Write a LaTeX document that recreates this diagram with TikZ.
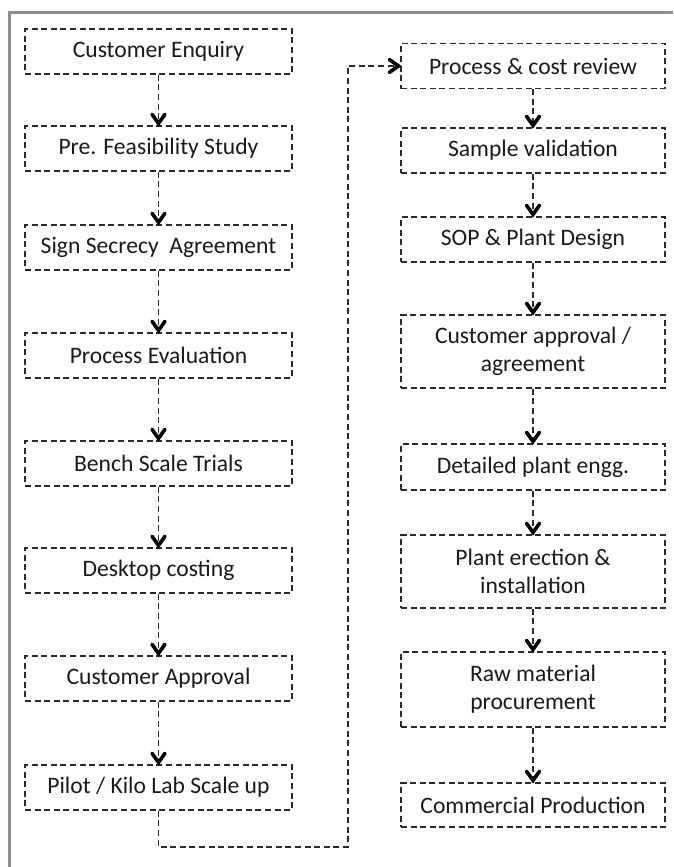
\documentclass[tikz,border=0pt]{standalone}
\usepackage{fontspec}
\setmainfont{Carlito}
\usetikzlibrary{arrows.meta}
\definecolor{boxline}{HTML}{2A2A2A}
\definecolor{frameline}{HTML}{8A9196}
\definecolor{txt}{HTML}{1A1A1A}
\tikzset{
  stepbox/.style={draw=boxline, line width=1.5pt, dash pattern=on 6pt off 3.6pt,
    minimum height=45pt, align=center, text=txt, inner sep=0pt,
    font=\fontsize{23.6}{28}\selectfont},
  leftbox/.style={stepbox, minimum width=267pt},
  rightbox/.style={stepbox, minimum width=264pt},
  plainflow/.style={draw=boxline, line width=1.5pt, dash pattern=on 6pt off 3.6pt},
  headv/.style={draw=black, solid, line width=3.6pt, line cap=round, line join=miter}
}
\begin{document}
\begin{tikzpicture}[x=1pt,y=-1pt]
\useasboundingbox (0,0) rectangle (673,867);
\fill[white] (0,0) rectangle (673,867);
\draw[frameline, line width=2.6pt] (9.5,867) -- (9.5,12.5) -- (673,12.5);

% left column
\node[leftbox] (a1) at (158.5,51.5) {Customer Enquiry};
\node[leftbox] (a2) at (158.5,148.5) {Pre. Feasibility Study};
\node[leftbox] (a3) at (158.5,247.5) {Sign Secrecy\ \ Agreement};
\node[leftbox] (a4) at (158.5,355.5) {Process Evaluation};
\node[leftbox] (a5) at (158.5,463.5) {Bench Scale Trials};
\node[leftbox] (a6) at (158.5,570.5) {Desktop costing};
\node[leftbox] (a7) at (158.5,678.5) {Customer Approval};
\node[leftbox] (a8) at (158.5,787.5) {Pilot / Kilo Lab Scale up};

% right column
\node[rightbox] (b1) at (533,66) {Process \& cost review};
\node[rightbox] (b2) at (533,150.5) {Sample validation};
\node[rightbox] (b3) at (533,239.5) {SOP \& Plant Design};
\node[rightbox, minimum height=73pt] (b4) at (533,351.5) {Customer approval /\\agreement};
\node[rightbox, minimum height=46pt] (b5) at (533,467) {Detailed plant engg.};
\node[rightbox, minimum height=73pt] (b6) at (533,571.5) {Plant erection \&\\installation};
\node[rightbox, minimum height=75pt] (b7) at (533,689.5) {Raw material\\procurement};
\node[rightbox, minimum height=44pt] (b8) at (533,805) {Commercial Production};

\foreach \i/\j in {a1/a2,a2/a3,a3/a4,a4/a5,a5/a6,a6/a7,a7/a8,b1/b2,b2/b3,b3/b4,b4/b5,b5/b6,b6/b7,b7/b8}{
  \draw[plainflow] (\i.south) -- (\j.north);
  \draw[headv] ([xshift=-6.5pt,yshift=11pt]\j.north) -- ([yshift=1.8pt]\j.north) -- ([xshift=6.5pt,yshift=11pt]\j.north);
}

\coordinate (c1) at (158.5,847);
\coordinate (c2) at (348,847);
\coordinate (c3) at (348,66);
\draw[plainflow] (a8.south) -- (c1) -- (c2) -- (c3) -- (b1.west);
\draw[headv] ([xshift=-11pt,yshift=6.5pt]b1.west) -- ([xshift=-1.8pt]b1.west) -- ([xshift=-11pt,yshift=-6.5pt]b1.west);
\end{tikzpicture}
\end{document}
